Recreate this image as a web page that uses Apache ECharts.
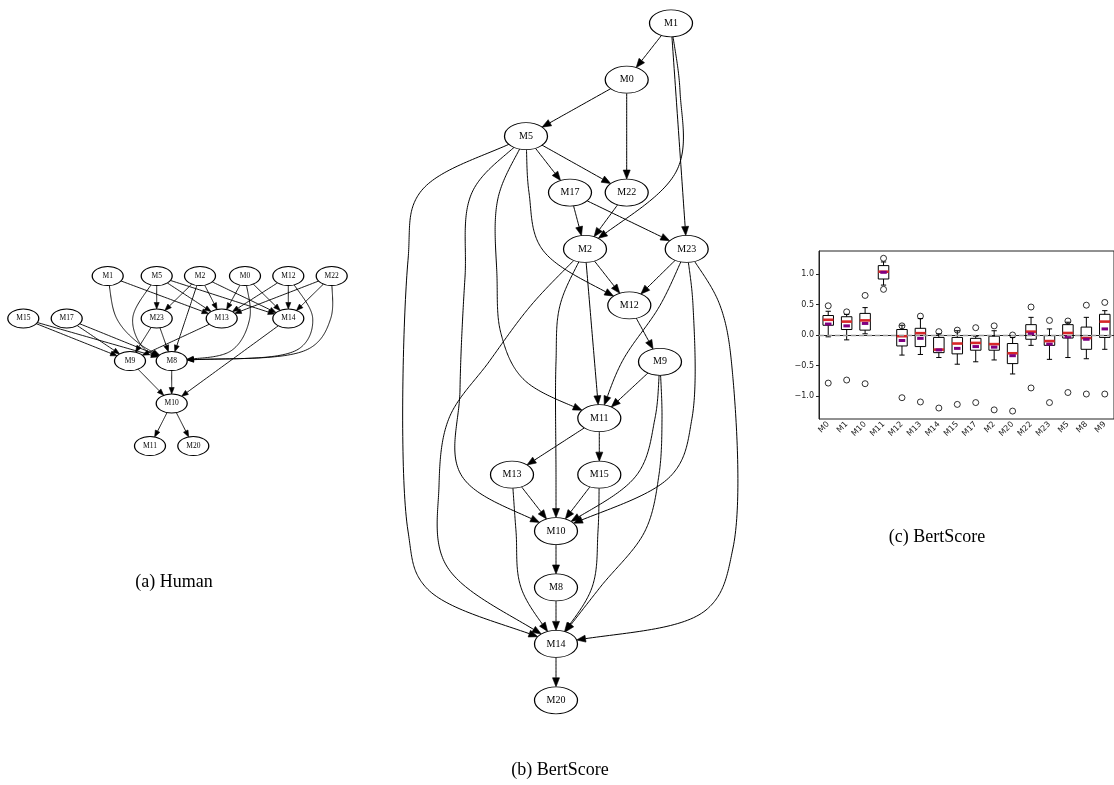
<!DOCTYPE html>
<html><head><meta charset="utf-8">
<script src="https://cdn.jsdelivr.net/npm/echarts@6/dist/echarts.min.js"></script>
<style>html,body{margin:0;padding:0;background:#fff}#c{width:1114px;height:785px}</style>
</head><body><div id="c"></div>
<script>
// ---------- (a) Human graph data ----------
const humanNodes = ['M1','M5','M2','M0','M12','M22','M15','M17','M23','M13','M14','M9','M8','M10','M11','M20'];
const humanEdges = [
  ['M1','M13'],['M1','M8'],
  ['M5','M23'],['M5','M13'],['M5','M14'],['M5','M8'],
  ['M2','M23'],['M2','M13'],['M2','M14'],['M2','M8'],
  ['M0','M13'],['M0','M14'],['M0','M8'],
  ['M12','M13'],['M12','M14'],['M12','M8'],
  ['M22','M13'],['M22','M14'],['M22','M8'],
  ['M15','M9'],['M15','M8'],['M17','M9'],['M17','M8'],
  ['M23','M9'],['M23','M8'],['M13','M9'],
  ['M14','M10'],['M9','M10'],['M8','M10'],
  ['M10','M11'],['M10','M20']
];
// ---------- (b) BertScore graph data ----------
const bertNodes = ['M1','M0','M5','M17','M22','M2','M23','M12','M9','M11','M13','M15','M10','M8','M14','M20'];
const bertEdges = [
  ['M1','M0'],['M1','M2'],['M1','M23'],
  ['M0','M5'],['M0','M22'],
  ['M5','M17'],['M5','M22'],['M5','M12'],['M5','M11'],['M5','M10'],['M5','M14'],
  ['M17','M2'],['M17','M23'],['M22','M2'],
  ['M2','M12'],['M2','M11'],['M2','M10'],['M2','M14'],
  ['M23','M12'],['M23','M11'],['M23','M10'],['M23','M14'],
  ['M12','M9'],['M9','M11'],['M9','M10'],['M9','M14'],
  ['M11','M13'],['M11','M15'],
  ['M13','M10'],['M13','M14'],['M15','M10'],['M15','M14'],
  ['M10','M8'],['M8','M14'],['M14','M20']
];
// ---------- (c) BertScore box plot data ----------
const boxCategories = ['M0','M1','M10','M11','M12','M13','M14','M15','M17','M2','M20','M22','M23','M5','M8','M9'];
const whiskerLow  = [-0.03,-0.08,0.02,0.82,-0.33,-0.32,-0.37,-0.48,-0.44,-0.41,-0.64,-0.17,-0.40,-0.37,-0.39,-0.235];
const q1Values    = [0.16,0.09,0.08,0.92,-0.18,-0.19,-0.29,-0.31,-0.25,-0.25,-0.47,-0.07,-0.17,-0.05,-0.235,-0.04];
const medians     = [0.25,0.22,0.24,1.04,-0.02,0.03,-0.24,-0.14,-0.13,-0.15,-0.30,0.055,-0.10,0.033,-0.05,0.22];
const q3Values    = [0.32,0.30,0.355,1.14,0.09,0.11,-0.04,-0.04,-0.055,-0.02,-0.14,0.17,-0.01,0.17,0.13,0.34];
const whiskerHigh = [0.39,0.34,0.45,1.20,0.16,0.27,0.02,0.07,-0.02,0.07,-0.04,0.29,0.10,0.21,0.29,0.40];
const means       = [0.18,0.15,0.19,1.03,-0.09,-0.055,-0.245,-0.22,-0.19,-0.20,-0.34,0.02,-0.15,-0.03,-0.07,0.10];
const outliersHigh = [0.48,0.38,0.65,1.26,0.15,0.31,0.055,0.08,0.12,0.15,0.0,0.46,0.24,0.23,0.49,0.535];
const outliersLow  = [-0.79,-0.74,-0.80,0.75,-1.03,-1.10,-1.20,-1.14,-1.11,-1.23,-1.25,-0.87,-1.11,-0.945,-0.97,-0.97];
const yTickValues = [-1, -0.5, 0, 0.5, 1];

// ---------- graph layout: [column offset, rank] and edge routes through virtual nodes ----------
const humanLayout = {
  M1:[-64,0], M5:[-15,0], M2:[28.3,0], M0:[73.3,0], M12:[116.6,0], M22:[160,0],
  M15:[-148.4,1], M17:[-105,1], M23:[-15,1], M13:[50,1], M14:[116.6,1],
  M9:[-41.7,2], M8:[0,2], M10:[0,3], M11:[-21.7,4], M20:[21.6,4]
};
const humanRoutes = {
  'M1>M8': [[-55,1],[-32,1.6]],
  'M5>M8': [[-39,1],[-28,1.7]],
  'M0>M8': [[78,1],[60,1.75]],
  'M12>M8': [[141,1],[128,1.7]],
  'M22>M8': [[159,1],[138,1.7]]
};
const bertLayout = {
  M1:[115,0], M0:[70.7,1], M5:[-30,2], M17:[14,3], M22:[70.7,3], M2:[29,4], M23:[130.7,4],
  M12:[73.3,5], M9:[104,6], M11:[43.3,7], M13:[-44,8], M15:[43.3,8],
  M10:[0,9], M8:[0,10], M14:[0,11], M20:[0,12]
};
const bertRoutes = {
  'M1>M2': [[124,1.2],[121,2.6]],
  'M5>M12': [[-27,3],[-14,4]],
  'M5>M11': [[-58,3.1],[-59,4.5],[-55,5.5],[-33,6.3]],
  'M5>M10': [[-84,3],[-91,4.5],[-96,6.5],[-95,8]],
  'M5>M14': [[-136,3],[-148,4.2],[-148,9],[-130,10]],
  'M2>M10': [[4,5],[0,6],[0,8]],
  'M2>M14': [[-25,5],[-67,6],[-107,7],[-117,8.2],[-110,9.6]],
  'M23>M11': [[104,5],[66,6]],
  'M23>M10': [[137,5],[136,7],[116,8]],
  'M23>M14': [[164,5],[177,6.3],[177,9.3],[150,10.4]],
  'M9>M10': [[99,7],[81,8]],
  'M9>M14': [[106,7],[103,8],[89,9],[44,10]],
  'M13>M14': [[-40,9],[-35,10]],
  'M15>M14': [[42,9],[36,10]]
};

const ELLIPSE = 'path://M0,1A1,1,0,1,1,2,1A1,1,0,1,1,0,1Z';

function nodeSeries(nodes, layout, axisIdx, nodeSize, fontSize) {
  return {type: 'graph', coordinateSystem: 'cartesian2d', xAxisIndex: axisIdx, yAxisIndex: axisIdx,
    silent: true, animation: false, roam: false, z: 3,
    data: nodes.map(n => ({name: n, value: layout[n]})), links: [],
    symbol: ELLIPSE, symbolSize: nodeSize,
    itemStyle: {color: '#fff', borderColor: '#000', borderWidth: 1},
    label: {show: true, position: 'inside', formatter: '{b}', color: '#000',
      fontFamily: 'Liberation Serif', fontSize: fontSize}};
}

// centripetal Catmull-Rom -> cubic bezier, sampled
function smoothSample(P) {
  const out = [P[0].slice()];
  const n = P.length;
  const dist = (a, b) => Math.sqrt(Math.hypot(b[0] - a[0], b[1] - a[1])) || 1e-6;
  for (let i = 0; i < n - 1; i++) {
    const p1 = P[i], p2 = P[i + 1];
    const p0 = i > 0 ? P[i - 1] : [2 * p1[0] - p2[0], 2 * p1[1] - p2[1]];
    const p3 = i + 2 < n ? P[i + 2] : [2 * p2[0] - p1[0], 2 * p2[1] - p1[1]];
    const d1 = dist(p0, p1), d2 = dist(p1, p2), d3 = dist(p2, p3);
    const c1 = [0, 1].map(k => (d1 * d1 * p2[k] - d2 * d2 * p0[k] + (2 * d1 * d1 + 3 * d1 * d2 + d2 * d2) * p1[k]) / (3 * d1 * (d1 + d2)));
    const c2 = [0, 1].map(k => (d3 * d3 * p1[k] - d2 * d2 * p3[k] + (2 * d3 * d3 + 3 * d3 * d2 + d2 * d2) * p2[k]) / (3 * d3 * (d3 + d2)));
    const steps = 40;
    for (let s = 1; s <= steps; s++) {
      const t = s / steps, u = 1 - t;
      out.push([
        u*u*u*p1[0] + 3*u*u*t*c1[0] + 3*u*t*t*c2[0] + t*t*t*p2[0],
        u*u*u*p1[1] + 3*u*u*t*c1[1] + 3*u*t*t*c2[1] + t*t*t*p2[1]
      ]);
    }
  }
  return out;
}
function inside(p, c, rx, ry) {
  const dx = (p[0] - c[0]) / rx, dy = (p[1] - c[1]) / ry;
  return dx * dx + dy * dy < 1;
}
function crossing(a, b, c, rx, ry) {
  let lo = 0, hi = 1;
  for (let k = 0; k < 20; k++) {
    const m = (lo + hi) / 2;
    const p = [a[0] + (b[0] - a[0]) * m, a[1] + (b[1] - a[1]) * m];
    if (inside(p, c, rx, ry)) lo = m; else hi = m;
  }
  return [a[0] + (b[0] - a[0]) * hi, a[1] + (b[1] - a[1]) * hi];
}

function edgeSeries(edges, layout, routes, axisIdx, rx, ry, arrowLen, arrowW, lw) {
  return {
    type: 'custom', coordinateSystem: 'cartesian2d', xAxisIndex: axisIdx, yAxisIndex: axisIdx,
    silent: true, animation: false, z: 1, clip: false,
    data: edges.map(e => layout[e[0]].slice()),
    renderItem: function (params, api) {
      const e = edges[params.dataIndex];
      const route = routes[e[0] + '>' + e[1]] || [];
      const cs = api.coord(layout[e[0]]), ct = api.coord(layout[e[1]]);
      const P = [cs].concat(route.map(r => api.coord(r))).concat([ct]);
      const S = smoothSample(P);
      let k = 0;
      while (k < S.length - 1 && inside(S[k], cs, rx, ry)) k++;
      const start = crossing(S[k - 1] || S[0], S[k], cs, rx, ry);
      let j = S.length - 1;
      while (j > 0 && inside(S[j], ct, rx, ry)) j--;
      const tip = crossing(S[j + 1] || S[j], S[j], ct, rx, ry);
      let acc = 0, prev = tip, base = tip, idx = j;
      while (idx >= k) {
        const q = S[idx];
        const d = Math.hypot(q[0] - prev[0], q[1] - prev[1]);
        if (acc + d >= arrowLen) {
          const f = (arrowLen - acc) / d;
          base = [prev[0] + (q[0] - prev[0]) * f, prev[1] + (q[1] - prev[1]) * f];
          break;
        }
        acc += d; prev = q; base = q; idx--;
      }
      const line = [start];
      for (let m = k; m <= idx; m++) line.push(S[m]);
      line.push(base);
      const dx = tip[0] - base[0], dy = tip[1] - base[1], L = Math.hypot(dx, dy) || 1;
      const nx = -dy / L * arrowW / 2, ny = dx / L * arrowW / 2;
      return {type: 'group', children: [
        {type: 'polyline', shape: {points: line}, style: {stroke: '#000', lineWidth: lw, fill: null}},
        {type: 'polygon', shape: {points: [tip, [base[0] + nx, base[1] + ny], [base[0] - nx, base[1] - ny]]},
          style: {fill: '#000', stroke: '#000', lineWidth: 0.6}}
      ]};
    }
  };
}

const chart = echarts.init(document.getElementById('c'), null, {renderer: 'canvas'});
const hiddenAxis = (idx, min, max, inverse) => ({gridIndex: idx, type: 'value', min, max, inverse: !!inverse, show: false});

const option = {
  backgroundColor: '#fff',
  animation: false,
  grid: [
    {left: 0, top: 276, width: 370, height: 170},
    {left: 400, top: 23.3, width: 320, height: 677},
    {left: 819, top: 251, width: 300, height: 168, show: true, borderColor: '#222', borderWidth: 1, backgroundColor: 'transparent'}
  ],
  xAxis: [
    hiddenAxis(0, -171.7, 198.3),
    hiddenAxis(1, -156, 164),
    {gridIndex: 2, type: 'category', data: boxCategories, boundaryGap: true,
      axisLine: {lineStyle: {color: '#222', width: 1}},
      axisTick: {alignWithLabel: true, length: 3, lineStyle: {color: '#222'}},
      axisLabel: {rotate: 45, fontSize: 8, fontFamily: 'DejaVu Sans', color: '#222', margin: 4, interval: 0},
      splitLine: {show: false}}
  ],
  yAxis: [
    hiddenAxis(0, 0, 4, true),
    hiddenAxis(1, 0, 12, true),
    {gridIndex: 2, type: 'value', min: -1.38, max: 1.38,
      axisLine: {show: true, lineStyle: {color: '#222', width: 1}},
      axisTick: {show: true, length: 3, customValues: yTickValues, lineStyle: {color: '#222'}},
      axisLabel: {customValues: yTickValues, fontSize: 8, fontFamily: 'DejaVu Sans', color: '#222', margin: 5,
        formatter: v => Number(v).toFixed(1).replace('-', '\u2212')},
      splitLine: {show: false}}
  ],
  series: [
    edgeSeries(humanEdges, humanLayout, humanRoutes, 0, 15.5, 9.5, 6.5, 5, 0.9),
    nodeSeries(humanNodes, humanLayout, 0, [31, 19], 7.5),
    edgeSeries(bertEdges, bertLayout, bertRoutes, 1, 21.5, 13.5, 9, 7, 1),
    nodeSeries(bertNodes, bertLayout, 1, [43, 27], 10),
    {
      type: 'custom', xAxisIndex: 2, yAxisIndex: 2, silent: true, z: 3,
      data: boxCategories.map((c, i) => [i, whiskerLow[i], q1Values[i], medians[i], q3Values[i], whiskerHigh[i], means[i]]),
      encode: {x: 0, y: [1, 2, 3, 4, 5, 6]},
      renderItem: function (params, api) {
        const x = api.value(0);
        const pLo = api.coord([x, api.value(1)]);
        const pQ1 = api.coord([x, api.value(2)]);
        const pMed = api.coord([x, api.value(3)]);
        const pQ3 = api.coord([x, api.value(4)]);
        const pHi = api.coord([x, api.value(5)]);
        const pMean = api.coord([x, api.value(6)]);
        const band = api.size([1, 0])[0];
        const bw = band * 0.57, cw = bw * 0.5, mw = bw * 0.62;
        const cx = pMed[0];
        const blk = {stroke: '#000', lineWidth: 1, fill: null};
        return {type: 'group', children: [
          {type: 'line', shape: {x1: cx, y1: pQ1[1], x2: cx, y2: pLo[1]}, style: blk},
          {type: 'line', shape: {x1: cx, y1: pQ3[1], x2: cx, y2: pHi[1]}, style: blk},
          {type: 'line', shape: {x1: cx - cw / 2, y1: pLo[1], x2: cx + cw / 2, y2: pLo[1]}, style: blk},
          {type: 'line', shape: {x1: cx - cw / 2, y1: pHi[1], x2: cx + cw / 2, y2: pHi[1]}, style: blk},
          {type: 'rect', shape: {x: cx - bw / 2, y: pQ3[1], width: bw, height: pQ1[1] - pQ3[1]}, style: {stroke: '#000', lineWidth: 1, fill: 'transparent'}},
          {type: 'line', shape: {x1: cx - bw / 2, y1: pMed[1], x2: cx + bw / 2, y2: pMed[1]}, style: {stroke: '#d62728', lineWidth: 2.6}},
          {type: 'line', shape: {x1: cx - mw / 2, y1: pMean[1], x2: cx + mw / 2, y2: pMean[1]}, style: {stroke: '#800080', lineWidth: 3}}
        ]};
      },
      markLine: {silent: true, symbol: ['none', 'none'], label: {show: false},
        lineStyle: {color: '#999', type: [5, 3], width: 1.3}, data: [{yAxis: 0}]}
    },
    {
      type: 'scatter', xAxisIndex: 2, yAxisIndex: 2, silent: true, z: 4,
      symbol: 'circle', symbolSize: 6,
      itemStyle: {color: 'rgba(255,255,255,0)', borderColor: '#000', borderWidth: 1},
      data: boxCategories.map((c, i) => [i, outliersHigh[i]]).concat(boxCategories.map((c, i) => [i, outliersLow[i]]))
    }
  ],
  graphic: [
    {type: 'text', x: 174, y: 582, style: {text: '(a) Human', font: '18px "Liberation Serif"', fill: '#000', align: 'center', verticalAlign: 'middle'}},
    {type: 'text', x: 560, y: 770, style: {text: '(b) BertScore', font: '18px "Liberation Serif"', fill: '#000', align: 'center', verticalAlign: 'middle'}},
    {type: 'text', x: 937, y: 537, style: {text: '(c) BertScore', font: '18px "Liberation Serif"', fill: '#000', align: 'center', verticalAlign: 'middle'}}
  ]
};
chart.setOption(option);
</script>
</body></html>
